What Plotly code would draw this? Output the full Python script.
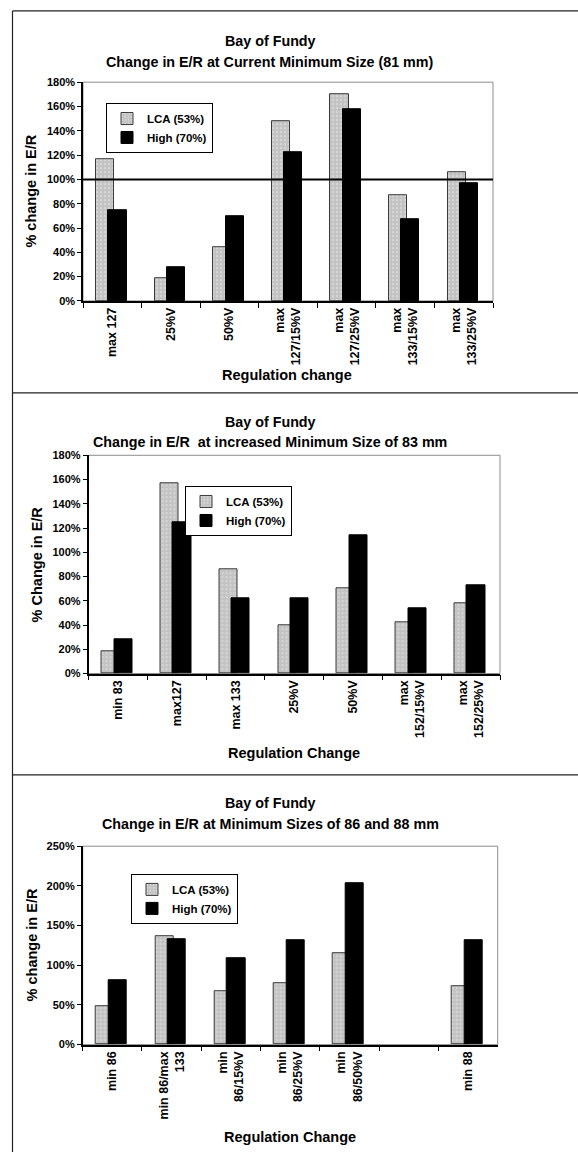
import plotly.graph_objects as go

# ---- data -------------------------------------------------------------
series_names = ["LCA (53%)", "High (70%)"]

titles = [
    "Bay of Fundy<br>Change in E/R at Current Minimum Size (81 mm)",
    "Bay of Fundy<br>Change in E/R  at increased Minimum Size of 83 mm",
    "Bay of Fundy<br>Change in E/R at Minimum Sizes of 86 and 88 mm",
]
y_titles = ["% change in E/R", "% Change in E/R", "% change in E/R"]
x_titles = ["Regulation change", "Regulation Change", "Regulation Change"]

cats1 = ["max 127", "25%V", "50%V", "max<br>127/15%V", "max<br>127/25%V",
         "max<br>133/15%V", "max<br>133/25%V"]
lca1 = [117, 19, 44, 148, 170, 87, 106]
high1 = [75, 28, 70, 122, 158, 67, 97]

cats2 = ["min 83", "max127", "max 133", "25%V", "50%V",
         "max<br>152/15%V", "max<br>152/25%V"]
lca2 = [18, 157, 86, 40, 70, 42, 58]
high2 = [28, 125, 62, 62, 114, 54, 73]

cats3 = ["min 86", "min 86/max<br>133", "min<br>86/15%V", "min<br>86/25%V",
         "min<br>86/50%V", " ", "min 88"]
lca3 = [48, 137, 67, 78, 115, None, 74]
high3 = [81, 133, 109, 131, 203, None, 131]

y_max = [180, 180, 250]
y_step = [20, 20, 50]
reference_level = 100  # break-even line on the first panel

# ---- page geometry (pixels) ------------------------------------------
W, H = 578, 1158
FONT = "Liberation Sans, Arial, sans-serif"


def px(x):
    return x / W


def py(y):
    return 1 - y / H


# plot area boxes: (left, top, right, bottom)
plot_boxes = [(83, 77, 493, 298), (88.5, 454, 500, 674.5), (82.7, 849, 497.7, 1049.5)]
title_y = [(35.5, 57), (420, 441), (805, 827)]
xtitle_pos = [(287, 373), (294, 755), (290, 1143)]
ytitle_x = [31, 37, 32]
legend_pos = [(106, 98), (185, 485), (131, 877)]
panel_lines = [5, 391, 777]

panels = [(cats1, lca1, high1), (cats2, lca2, high2), (cats3, lca3, high3)]

fig = go.Figure()
shapes = []
annotations = []
layout_axes = {}

BAR_W = 0.31
for i, (cats, lca, high) in enumerate(panels):
    n = i + 1
    xa = "x" if n == 1 else f"x{n}"
    ya = "y" if n == 1 else f"y{n}"
    lg = "legend" if n == 1 else f"legend{n}"

    fig.add_trace(go.Bar(
        x=cats, y=lca, name=series_names[0], xaxis=xa, yaxis=ya, legend=lg,
        width=BAR_W, offset=-0.275,
        marker=dict(color="#c2c2c2",
                    line=dict(color="#3a3a3a", width=1),
                    pattern=dict(shape=".", bgcolor="#c2c2c2", fgcolor="#eeeeee",
                                 size=4, solidity=0.25)),
    ))
    fig.add_trace(go.Bar(
        x=cats, y=high, name=series_names[1], xaxis=xa, yaxis=ya, legend=lg,
        width=BAR_W, offset=-0.065,
        marker=dict(color="#000000", line=dict(color="#000000", width=1)),
    ))

    l, t, r, b = plot_boxes[i]
    xkey = "xaxis" if n == 1 else f"xaxis{n}"
    ykey = "yaxis" if n == 1 else f"yaxis{n}"
    layout_axes[xkey] = dict(
        domain=[px(l), px(r)], anchor=ya, type="category",
        categoryorder="array", categoryarray=cats, range=[-0.5, len(cats) - 0.5],
        showline=True, linecolor="black", linewidth=1.5,
        ticks="outside", tickson="boundaries", ticklen=5, tickcolor="black",
        tickwidth=1, tickangle=-90, showgrid=False,
        tickfont=dict(size=12.5, family=FONT, color="black", weight="bold"),
    )
    layout_axes[ykey] = dict(
        domain=[py(b), py(t)], anchor=xa, range=[0, y_max[i]], dtick=y_step[i],
        ticksuffix="%", showline=True, linecolor="black", linewidth=1.5,
        ticks="outside", ticklen=4, tickcolor="black", tickwidth=1,
        showgrid=False, zeroline=False,
        tickfont=dict(size=11, family=FONT, color="black", weight="bold"),
    )

    # plot-area frame
    shapes.append(dict(type="rect", xref=f"{xa} domain", yref=f"{ya} domain",
                       x0=0, x1=1, y0=0, y1=1, layer="below",
                       line=dict(color="#8c8c8c", width=1)))

    lx, ly = legend_pos[i]
    layout_axes[lg] = dict(
        x=px(lx), y=py(ly), xanchor="left", yanchor="top",
        bgcolor="white", bordercolor="black", borderwidth=1,
        font=dict(size=11.5, family=FONT, color="black", weight="bold"),
        itemwidth=30, tracegroupgap=0,
    )

    t1, t2 = titles[i].split("<br>")
    annotations.append(dict(text=t1, x=px(270), y=py(title_y[i][0]), xref="paper",
                            yref="paper", showarrow=False, xanchor="center",
                            yanchor="middle",
                            font=dict(size=14.3, family=FONT, weight="bold")))
    annotations.append(dict(text=t2, x=px(270), y=py(title_y[i][1]), xref="paper",
                            yref="paper", showarrow=False, xanchor="center",
                            yanchor="middle",
                            font=dict(size=14.3, family=FONT, weight="bold")))
    annotations.append(dict(text=x_titles[i], x=px(xtitle_pos[i][0]),
                            y=py(xtitle_pos[i][1]), xref="paper", yref="paper",
                            showarrow=False, xanchor="center", yanchor="middle",
                            font=dict(size=14.5, family=FONT, weight="bold")))
    annotations.append(dict(text=y_titles[i], x=px(ytitle_x[i]),
                            y=py((t + b) / 2), xref="paper", yref="paper",
                            showarrow=False, xanchor="center", yanchor="middle",
                            textangle=-90,
                            font=dict(size=14.5, family=FONT, weight="bold")))

# break-even line on the first panel
shapes.append(dict(type="line", xref="x domain", yref="y", x0=0, x1=1,
                   y0=reference_level, y1=reference_level,
                   line=dict(color="black", width=2)))

# panel frames
shapes.append(dict(type="line", xref="paper", yref="paper", x0=px(12.5), x1=px(12.5),
                   y0=py(panel_lines[0]), y1=0, line=dict(color="#222222", width=1.2)))
for yl in panel_lines:
    shapes.append(dict(type="line", xref="paper", yref="paper", x0=px(12.5), x1=1,
                       y0=py(yl), y1=py(yl), line=dict(color="#222222", width=1.2)))

fig.update_layout(
    width=W, height=H, autosize=False,
    margin=dict(l=0, r=0, t=0, b=0),
    paper_bgcolor="white", plot_bgcolor="white",
    barmode="overlay", bargap=0,
    font=dict(family=FONT, color="black", weight="bold"),
    shapes=shapes, annotations=annotations,
    **layout_axes,
)

fig.write_html("out.html")
